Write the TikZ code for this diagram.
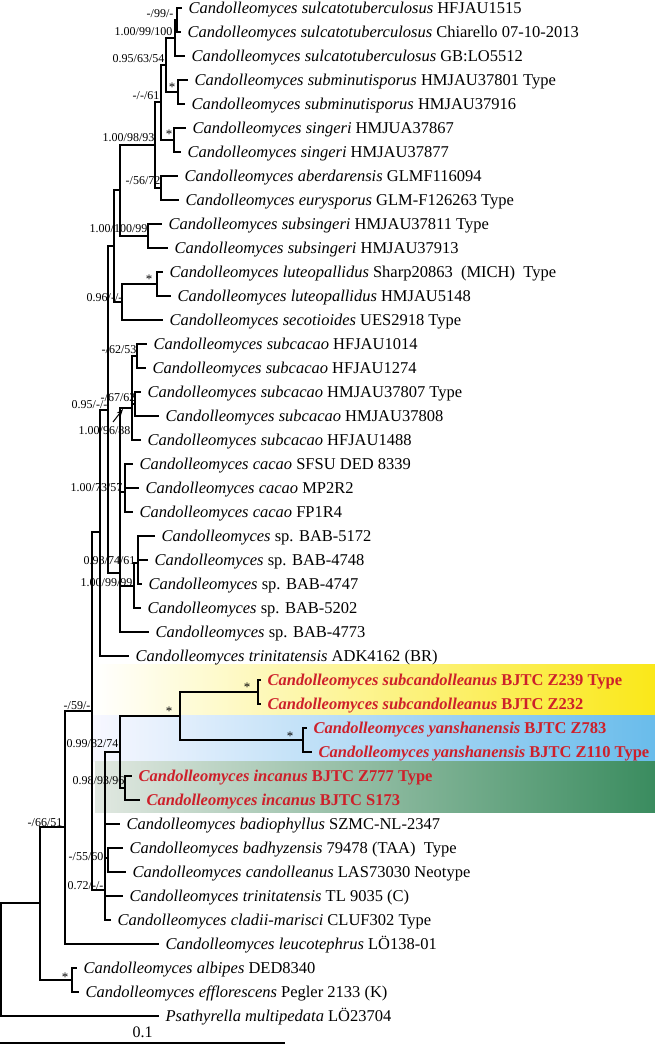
\documentclass[tikz,border=0pt]{standalone}
\usepackage{fontspec}
\setmainfont{Liberation Serif}
\usetikzlibrary{arrows.meta}
\definecolor{newred}{RGB}{205,32,42}
\definecolor{bandyellow}{RGB}{250,232,25}
\definecolor{bandblue}{RGB}{105,188,235}
\definecolor{bandgreen}{RGB}{58,140,95}
\newcommand{\cand}[1]{\textit{Candolleomyces #1}}
\newcommand{\newsp}[2]{\textcolor{newred}{\bfseries\textit{Candolleomyces #1} #2}}

\begin{document}
\begin{tikzpicture}[x=1pt, y=-1pt, line width=1.2pt,
    taxon/.style={anchor=base west, inner sep=0pt, xshift=6pt, yshift=-5.5pt, font=\fontsize{16.5}{18}\selectfont},
    support/.style={anchor=base east, inner sep=0pt, yshift=-4pt, font=\fontsize{12}{14}\selectfont},
    star/.style={anchor=base, inner sep=0pt, yshift=-6pt, font=\fontsize{13}{14}\selectfont}]
      \useasboundingbox (0,0) rectangle (655,1047);

      % coloured bands of the new species
      \shade[left color=white, right color=bandyellow, draw=none] (93,664) rectangle (655,715);
      \shade[left color=blue!3!white, right color=bandblue, draw=none] (93,715) rectangle (655,761);
      \shade[left color={rgb,255:red,225;green,232;blue,225}, right color=bandgreen, draw=none] (95,761) rectangle (655,812);

      % tips
      \foreach \i/\xe/\txt in {
        1/182/{\cand{sulcatotuberculosus} HFJAU1515},
        2/181/{\cand{sulcatotuberculosus} Chiarello 07-10-2013},
        3/185/{\cand{sulcatotuberculosus} GB:LO5512},
        4/188/{\cand{subminutisporus} HMJAU37801 Type},
        5/185/{\cand{subminutisporus} HMJAU37916},
        6/186/{\cand{singeri} HMJUA37867},
        7/181/{\cand{singeri} HMJAU37877},
        8/178/{\cand{aberdarensis} GLMF116094},
        9/179/{\cand{eurysporus} GLM-F126263 Type},
        10/162/{\cand{subsingeri} HMJAU37811 Type},
        11/168/{\cand{subsingeri} HMJAU37913},
        12/163/{\cand{luteopallidus} Sharp20863\ \ (MICH)\ \ Type},
        13/171/{\cand{luteopallidus} HMJAU5148},
        14/163/{\cand{secotioides} UES2918 Type},
        15/147/{\cand{subcacao} HFJAU1014},
        16/146/{\cand{subcacao} HFJAU1274},
        17/141/{\cand{subcacao} HMJAU37807 Type},
        18/159/{\cand{subcacao} HMJAU37808},
        19/141/{\cand{subcacao} HFJAU1488},
        20/133/{\cand{cacao} SFSU DED 8339},
        21/139/{\cand{cacao} MP2R2},
        22/133/{\cand{cacao} FP1R4},
        23/155/{\textit{Candolleomyces} sp. BAB-5172},
        24/148/{\textit{Candolleomyces} sp. BAB-4748},
        25/142/{\textit{Candolleomyces} sp. BAB-4747},
        26/141/{\textit{Candolleomyces} sp. BAB-5202},
        27/149/{\textit{Candolleomyces} sp. BAB-4773},
        28/129/{\cand{trinitatensis} ADK4162 (BR)},
        29/261/{\newsp{subcandolleanus}{BJTC Z239 Type}},
        30/261/{\newsp{subcandolleanus}{BJTC Z232}},
        31/307/{\newsp{yanshanensis}{BJTC Z783}},
        32/312/{\newsp{yanshanensis}{BJTC Z110 Type}},
        33/132/{\newsp{incanus}{BJTC Z777 Type}},
        34/140/{\newsp{incanus}{BJTC S173}},
        35/120/{\cand{badiophyllus} SZMC-NL-2347},
        36/123/{\cand{badhyzensis} 79478 (TAA)\ \ Type},
        37/126/{\cand{candolleanus} LAS73030 Neotype},
        38/123/{\cand{trinitatensis} TL 9035 (C)},
        39/111/{\cand{cladii-marisci} CLUF302 Type},
        40/159/{\cand{leucotephrus} LÖ138-01},
        41/77/{\cand{albipes} DED8340},
        42/79/{\cand{efflorescens} Pegler 2133 (K)},
        43/159/{\textit{Psathyrella multipedata} LÖ23704}}
      {
        \coordinate (l\i) at (\xe,{8+24*(\i-1)});
        \node[taxon] (t\i) at (l\i) {\txt};
      }

      % inner nodes
      \coordinate (n12) at (177,20);
      \coordinate (n123) at (175,38);
      \coordinate (n45) at (178,92);
      \coordinate (nA) at (166,65);
      \coordinate (n67) at (174,140);
      \coordinate (nB) at (161,102);
      \coordinate (n89) at (161,188);
      \coordinate (nC) at (155,145);
      \coordinate (n1011) at (148,236);
      \coordinate (nD) at (120,190);
      \coordinate (n1213) at (157,284);
      \coordinate (nF) at (122,302);
      \coordinate (nE) at (114,246);
      \coordinate (n1516) at (137,356);
      \coordinate (n1718) at (135,404);
      \coordinate (nJ) at (132,408);
      \coordinate (nK) at (125,492);
      \coordinate (nM) at (138,563);
      \coordinate (nL) at (134,586);
      \coordinate (nI) at (120,573);
      \coordinate (nG) at (108,410);
      \coordinate (nH) at (100,532);
      \coordinate (n2930) at (258,692);
      \coordinate (n3132) at (303,740);
      \coordinate (nR) at (180,716);
      \coordinate (nS) at (125,788);
      \coordinate (nQ) at (120,752);
      \coordinate (n3637) at (108,858);
      \coordinate (nP) at (105,890);
      \coordinate (nN) at (92,711);
      \coordinate (nO) at (65,827);
      \coordinate (n4142) at (72,980);
      \coordinate (nT) at (40,903);
      \coordinate (root) at (1,960);

      % branches
      \foreach \p/\c in {n12/l1, n12/l2, n123/n12, n123/l3, n45/l4, n45/l5,
          nA/n123, nA/n45, n67/l6, n67/l7, nB/nA, nB/n67, n89/l8, n89/l9,
          nC/nB, nC/n89, n1011/l10, n1011/l11, nD/nC, nD/n1011,
          n1213/l12, n1213/l13, nF/n1213, nF/l14, nE/nD, nE/nF,
          n1516/l15, n1516/l16, n1718/l17, n1718/l18, nJ/n1516, nJ/n1718, nJ/l19,
          nK/l20, nK/l21, nK/l22, nM/l23, nM/l24, nM/l25, nL/nM, nL/l26,
          nI/nJ, nI/nK, nI/nL, nI/l27, nG/nE, nG/nI, nH/nG, nH/l28,
          n2930/l29, n2930/l30, n3132/l31, n3132/l32, nR/n2930, nR/n3132,
          nS/l33, nS/l34, nQ/nR, nQ/nS, n3637/l36, n3637/l37,
          nP/nQ, nP/l35, nP/n3637, nP/l38, nP/l39, nN/nH, nN/nP,
          nO/nN, nO/l40, n4142/l41, n4142/l42, nT/nO, nT/n4142,
          root/nT, root/l43}
        \draw (\p) |- (\c);

      % support values
      \node[support] (s1) at (174,13) {-/99/-};
      \node[support] (s2) at (173,31) {1.00/99/100};
      \node[support] (s3) at (165,58) {0.95/63/54};
      \node[support] (s4) at (160,95) {-/-/61};
      \node[support] (s5) at (155,137) {1.00/98/93};
      \node[support] (s6) at (161,180) {-/56/72};
      \node[support] (s7) at (148,228) {1.00/100/99};
      \node[support] (s8) at (123,297) {0.96/-/-};
      \node[support] (s9) at (137,349) {-/62/53};
      \node[support] (s10) at (136,397) {-/67/62};
      \node[support] (s11) at (108,404) {0.95/-/-};
      \node[support] (s12) at (131,430) {1.00/96/88};
      \node[support] (s13) at (123,487) {1.00/73/57};
      \node[support] (s14) at (136,560) {0.98/74/61};
      \node[support] (s15) at (133,582) {1.00/99/99};
      \node[support] (s16) at (91,705) {-/59/-};
      \node[support] (s17) at (119,743) {0.99/82/74};
      \node[support] (s18) at (125,780) {0.98/93/96};
      \node[support] (s19) at (63,822) {-/66/51};
      \node[support] (s20) at (104,856) {-/55/60};
      \node[support] (s21) at (104,885) {0.72/-/-};
      \coordinate (a0) at (113,422);
      \coordinate (a1) at (123,409);
      \draw[line width=1pt, -{Stealth[length=7pt,width=5pt]}] (a0) -- (a1);

      \node[star] (st1) at (172,85) {*};
      \node[star] (st2) at (169,132) {*};
      \node[star] (st3) at (149,277) {*};
      \node[star] (st4) at (247,685) {*};
      \node[star] (st5) at (169,709) {*};
      \node[star] (st6) at (290,734) {*};
      \node[star] (st7) at (65,975) {*};

      % scale bar
      \coordinate (sb0) at (0,1043);
      \coordinate (sb1) at (285,1043);
      \draw (sb0) -- node[above=1pt, font=\fontsize{16}{18}\selectfont] (sblab) {0.1} (sb1);
    \end{tikzpicture}
\end{document}
